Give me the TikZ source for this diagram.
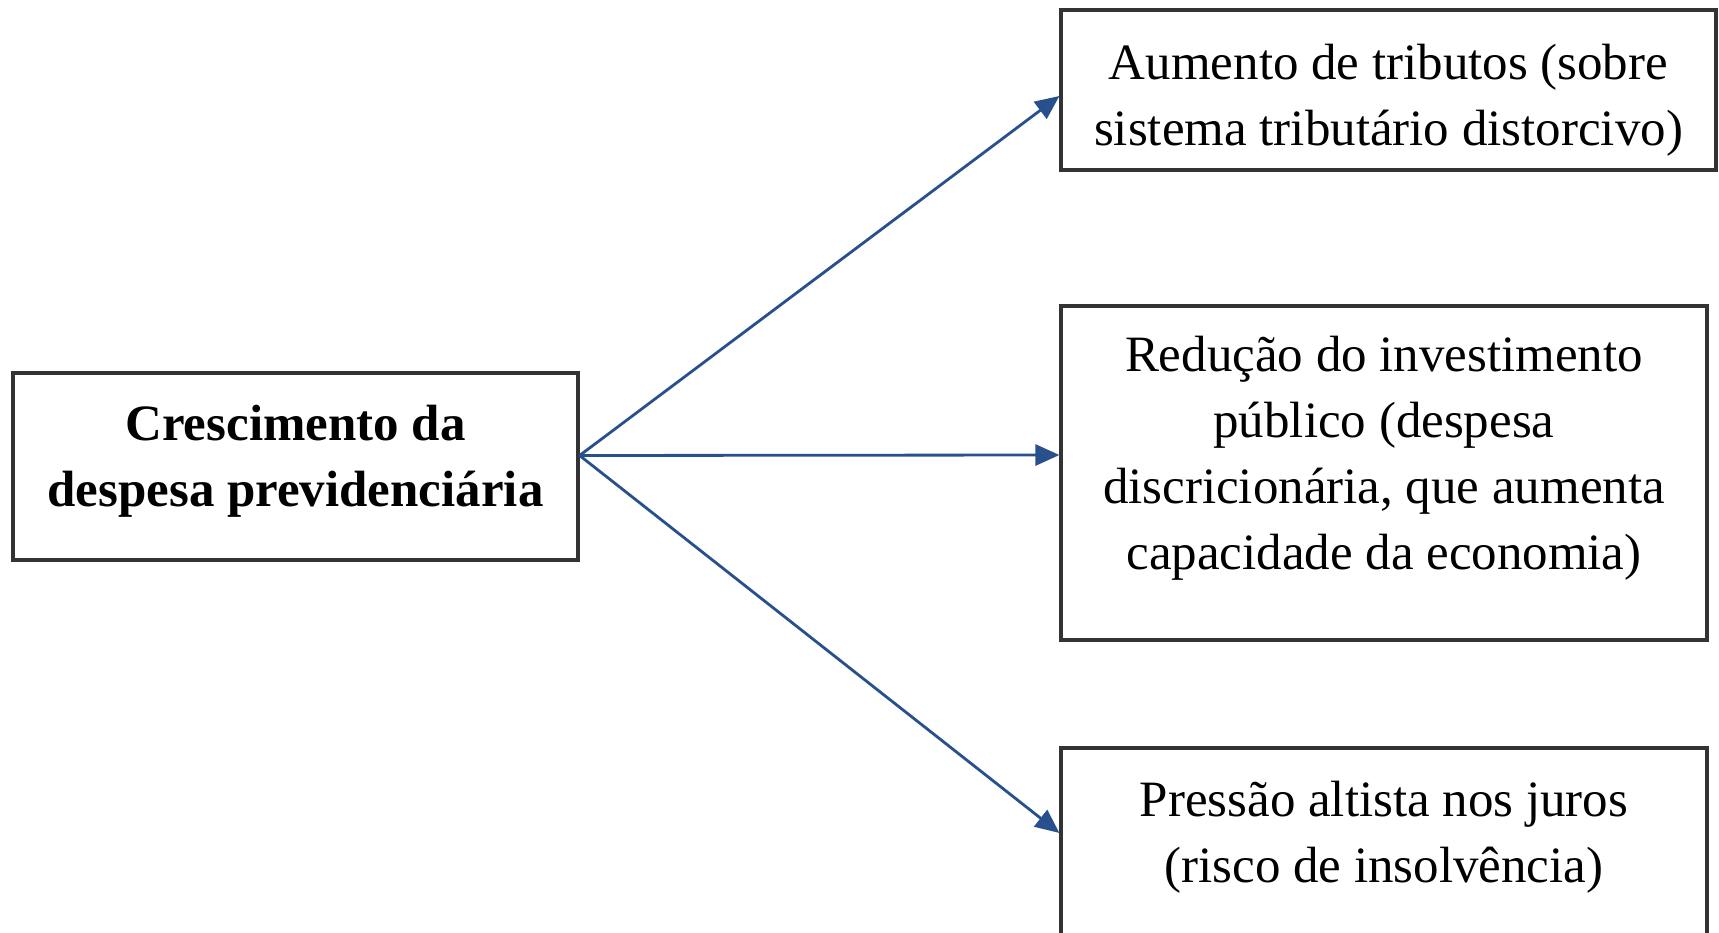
\documentclass[tikz,border=0pt]{standalone}
\usepackage{fontspec}
\setmainfont{Liberation Serif}
\usetikzlibrary{arrows.meta,calc}
\definecolor{arrowblue}{RGB}{40,80,140}
\begin{document}
\begin{tikzpicture}[box/.style={draw=black!80,line width=0.9pt,fill=white,inner sep=0pt,align=center,font=\fontsize{14.5}{18.8}\selectfont},
                    link/.style={draw=arrowblue,line width=0.8pt,-{Triangle[length=0.24cm,width=0.21cm]}}]
            \useasboundingbox (0,0) rectangle (17.19,-9.33);
            \clip (0,0) rectangle (17.19,-9.33);

            \node[box,minimum width=5.65cm,minimum height=1.87cm,text depth=0.21cm,font=\fontsize{14.5}{18.8}\selectfont\bfseries] (crec) at (2.955,-4.665) {Crescimento da\\despesa previdenciária};

            \node[box,minimum width=6.55cm,minimum height=1.60cm,text height=1.22cm] (trib) at (13.885,-0.90) {Aumento de tributos (sobre\\sistema tributário distorcivo)};
            \node[box,minimum width=6.46cm,minimum height=3.34cm,text depth=0.40cm] (inv) at (13.84,-4.73) {Redução do investimento\\público (despesa\\discricionária, que aumenta\\capacidade da economia)};
            \node[box,minimum width=6.46cm,minimum height=1.92cm,text depth=0.25cm] (juros) at (13.84,-8.44) {Pressão altista nos juros\\(risco de insolvência)};

            \coordinate (orig) at ($(crec.east)+(0,0.11)$);
            \draw[link] (orig) -- ($(trib.west)+(0,-0.06)$);
            \draw[link] (orig) -- ($(inv.west)+(0,0.18)$);
            \draw[link] (orig) -- ($(juros.west)+(0,0.11)$);
        \end{tikzpicture}
\end{document}
